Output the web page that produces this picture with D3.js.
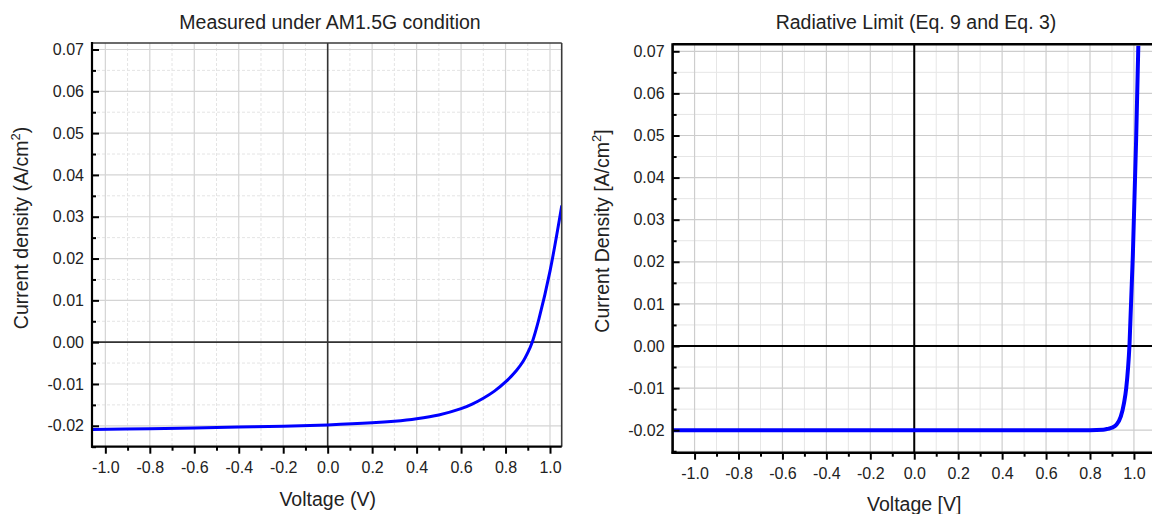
<!DOCTYPE html>
<html>
<head>
<meta charset="utf-8">
<script src="https://cdn.jsdelivr.net/npm/d3@7"></script>
<style>
  html, body { margin: 0; padding: 0; background: #fff; }
  svg { display: block; font-family: "Liberation Sans", Arial, sans-serif; }
</style>
</head>
<body>
<svg id="chart" width="1152" height="514"></svg>
<script>
// ---- Data ----
const measuredVoltage = [-1.06, -0.8, -0.6, -0.4, -0.2, 0.0, 0.2, 0.3, 0.4, 0.5, 0.6, 0.65, 0.7, 0.75, 0.8, 0.85, 0.88, 0.9, 0.92, 0.95, 1.0, 1.053];
const measuredCurrent = [-0.0209, -0.0207, -0.0205, -0.0203, -0.0201, -0.0198, -0.0193, -0.0189, -0.0183, -0.0174, -0.0159, -0.0148, -0.0134, -0.0117, -0.0095, -0.0067, -0.0045, -0.0025, 0.0, 0.0055, 0.0170, 0.0327];

const radiativeVoltage = [-1.1, 0.0, 0.8, 0.86, 0.88, 0.9, 0.92, 0.94, 0.955, 0.965, 0.98, 0.995, 1.01, 1.02];
const radiativeCurrent = [-0.0200, -0.0200, -0.0200, -0.0199, -0.0197, -0.0194, -0.0187, -0.0168, -0.0135, -0.0100, 0.0005, 0.0215, 0.049, 0.0713];

const xMajorTicks = [-1.0, -0.8, -0.6, -0.4, -0.2, 0.0, 0.2, 0.4, 0.6, 0.8, 1.0];
const xTickLabels = ["-1.0", "-0.8", "-0.6", "-0.4", "-0.2", "0.0", "0.2", "0.4", "0.6", "0.8", "1.0"];
const xMinorTicks = [-0.9, -0.7, -0.5, -0.3, -0.1, 0.1, 0.3, 0.5, 0.7, 0.9];
const yMajorTicks = [-0.02, -0.01, 0.0, 0.01, 0.02, 0.03, 0.04, 0.05, 0.06, 0.07];
const yTickLabels = ["-0.02", "-0.01", "0.00", "0.01", "0.02", "0.03", "0.04", "0.05", "0.06", "0.07"];
const yMinorTicks = [-0.025, -0.015, -0.005, 0.005, 0.015, 0.025, 0.035, 0.045, 0.055, 0.065];

const titles = ["Measured under AM1.5G condition", "Radiative Limit (Eq. 9 and Eq. 3)"];
const xLabels = ["Voltage (V)", "Voltage [V]"];
const yLabelMain = ["Current density (A/cm", "Current Density [A/cm"];
const yLabelEnd = [")", "]"];

// ---- Layout ----
const panels = [
  {
    id: "left",
    V: measuredVoltage, J: measuredCurrent, curve: d3.curveCatmullRom.alpha(0.5),
    xDomain: [-1.06, 1.0526], xRange: [92, 561.7],
    yDomain: [-0.025, 0.07155], yRange: [446.7, 43],
    title: titles[0], titleX: 330, titleY: 29,
    xLabel: xLabels[0], xLabelY: 506,
    yLabelX: 28, yLabelY: 228,
    minorDash: "3,2", majorGrid: "#d4d4d4", minorGrid: "#e4e4e4",
    frameColor: "#3a3a3a", frameW: 1.6, axisW: 2.2, zeroColor: "#333", zeroW: 1.6,
    curveW: 3, rightBorder: true, xTickY: 473
  },
  {
    id: "right",
    V: radiativeVoltage, J: radiativeCurrent, curve: d3.curveMonotoneX,
    xDomain: [-1.1, 1.1], xRange: [672.6, 1155.9],
    yDomain: [-0.02535, 0.07166], yRange: [452.7, 44.3],
    title: titles[1], titleX: 916, titleY: 28.5,
    xLabel: xLabels[1], xLabelY: 511,
    yLabelX: 609, yLabelY: 231,
    minorDash: null, majorGrid: "#cdcdcd", minorGrid: "#e6e6e6",
    frameColor: "#000", frameW: 2.6, axisW: 2.6, zeroColor: "#000", zeroW: 2,
    curveW: 4, rightBorder: false, xTickY: 479
  }
];

const svg = d3.select("#chart");

panels.forEach((p, idx) => {
  const x = d3.scaleLinear().domain(p.xDomain).range(p.xRange);
  const y = d3.scaleLinear().domain(p.yDomain).range(p.yRange);
  const g = svg.append("g");
  const [x0, x1] = p.xRange;
  const [y1, y0] = p.yRange;

  // clip
  svg.append("defs").append("clipPath").attr("id", "clip-" + p.id)
    .append("rect").attr("x", x0).attr("y", y0).attr("width", x1 - x0).attr("height", y1 - y0);

  // minor grid
  const grid = g.append("g");
  grid.selectAll(".mvx").data(xMinorTicks).join("line")
    .attr("x1", d => x(d)).attr("x2", d => x(d)).attr("y1", y0).attr("y2", y1)
    .attr("stroke", p.minorGrid).attr("stroke-width", 1)
    .attr("stroke-dasharray", p.minorDash);
  grid.selectAll(".mhy").data(yMinorTicks.filter(d => y(d) > y0 && y(d) < y1)).join("line")
    .attr("x1", x0).attr("x2", x1).attr("y1", d => y(d)).attr("y2", d => y(d))
    .attr("stroke", p.minorGrid).attr("stroke-width", 1)
    .attr("stroke-dasharray", p.minorDash);
  // major grid
  grid.selectAll(".Mvx").data(xMajorTicks).join("line")
    .attr("x1", d => x(d)).attr("x2", d => x(d)).attr("y1", y0).attr("y2", y1)
    .attr("stroke", p.majorGrid).attr("stroke-width", 1.2);
  grid.selectAll(".Mhy").data(yMajorTicks).join("line")
    .attr("x1", x0).attr("x2", x1).attr("y1", d => y(d)).attr("y2", d => y(d))
    .attr("stroke", p.majorGrid).attr("stroke-width", 1.2);

  // zero lines
  g.append("line").attr("x1", x0).attr("x2", x1).attr("y1", y(0)).attr("y2", y(0))
    .attr("stroke", p.zeroColor).attr("stroke-width", p.zeroW);
  g.append("line").attr("x1", x(0)).attr("x2", x(0)).attr("y1", y0).attr("y2", y1)
    .attr("stroke", p.zeroColor).attr("stroke-width", p.zeroW);

  // curve
  const pts = p.V.map((v, i) => [v, p.J[i]]);
  const line = d3.line().x(d => x(d[0])).y(d => y(d[1])).curve(p.curve);
  g.append("path").datum(pts)
    .attr("clip-path", "url(#clip-" + p.id + ")")
    .attr("d", line).attr("fill", "none")
    .attr("stroke", "#0000ff").attr("stroke-width", p.curveW)
    .attr("stroke-linejoin", "round");

  // frame: top & right
  g.append("line").attr("x1", x0).attr("x2", x1).attr("y1", y0).attr("y2", y0)
    .attr("stroke", p.frameColor).attr("stroke-width", p.frameW);
  if (p.rightBorder) {
    g.append("line").attr("x1", x1).attr("x2", x1).attr("y1", y0).attr("y2", y1)
      .attr("stroke", p.frameColor).attr("stroke-width", p.frameW);
  }

  // y axis (ticks inward)
  const yAxis = d3.axisLeft(y).tickValues(yMajorTicks).tickSize(-7).tickPadding(8)
    .tickFormat((d, i) => yTickLabels[i]);
  const ya = g.append("g").attr("transform", `translate(${x0},0)`).call(yAxis);
  const yMinor = d3.axisLeft(y).tickValues(yMinorTicks.filter(d => y(d) >= y0 && y(d) <= y1))
    .tickSize(-4).tickFormat("");
  const ym = g.append("g").attr("transform", `translate(${x0},0)`).call(yMinor);

  // x axis (ticks outward)
  const xAxis = d3.axisBottom(x).tickValues(xMajorTicks).tickSize(7).tickPadding(8)
    .tickFormat((d, i) => xTickLabels[i]);
  const xa = g.append("g").attr("transform", `translate(0,${y1})`).call(xAxis);
  const xMinor = d3.axisBottom(x).tickValues(xMinorTicks).tickSize(4).tickFormat("");
  const xm = g.append("g").attr("transform", `translate(0,${y1})`).call(xMinor);

  [ya, ym, xa, xm].forEach(a => {
    a.select(".domain").remove();
    a.selectAll(".tick line").attr("stroke", "#000").attr("stroke-width", 2);
    a.selectAll(".tick text").attr("fill", "#222").attr("font-size", 16)
      .attr("font-family", "Liberation Sans, Arial, sans-serif");
  });
  xa.selectAll(".tick text").attr("y", null).attr("dy", null)
    .attr("transform", null).attr("y", p.xTickY - y1);

  // axis lines
  g.append("line").attr("x1", x0).attr("x2", x0).attr("y1", y0 - 1).attr("y2", y1 + 1)
    .attr("stroke", "#000").attr("stroke-width", p.axisW);
  g.append("line").attr("x1", x0 - 1).attr("x2", x1).attr("y1", y1).attr("y2", y1)
    .attr("stroke", "#000").attr("stroke-width", p.axisW);

  // title
  svg.append("text").attr("x", p.titleX).attr("y", p.titleY)
    .attr("text-anchor", "middle").attr("font-size", 19.5).attr("fill", "#222")
    .text(p.title);
  // x label
  svg.append("text").attr("x", x(0)).attr("y", p.xLabelY)
    .attr("text-anchor", "middle").attr("font-size", 19.5).attr("fill", "#222")
    .text(p.xLabel);
  // y label
  const yl = svg.append("text")
    .attr("transform", `translate(${p.yLabelX},${p.yLabelY}) rotate(-90)`)
    .attr("text-anchor", "middle").attr("font-size", 19.5).attr("fill", "#222");
  yl.append("tspan").text(yLabelMain[idx]);
  yl.append("tspan").attr("font-size", 13).attr("dy", -8).text("2");
  yl.append("tspan").attr("dy", 8).text(yLabelEnd[idx]);
});
</script>
</body>
</html>
